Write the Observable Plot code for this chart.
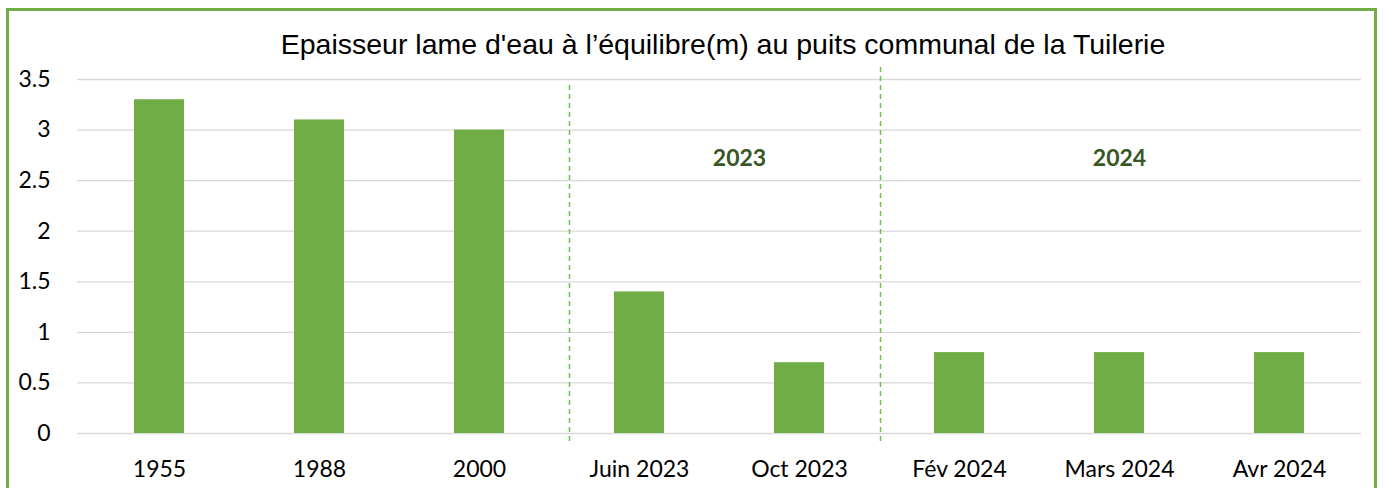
<!DOCTYPE html>
<html>
<head>
<meta charset="utf-8">
<script src="https://cdn.jsdelivr.net/npm/d3@7"></script>
<script src="https://cdn.jsdelivr.net/npm/@observablehq/plot@0.6"></script>
<style>
  html, body { margin: 0; padding: 0; background: #fff; }
  #wrap { position: relative; width: 1385px; height: 488px; overflow: hidden; }
  #frame { position: absolute; left: 6px; top: 8px; width: 1371px; height: 500px;
           border: 3px solid #70AD47; box-sizing: border-box; }
  #title { position: absolute; left: 0; width: 1446px; top: 28px; text-align: center;
           font-family: "Liberation Sans", Arial, sans-serif; font-size: 28.5px; color: #000; }
  #chart { position: absolute; left: 0; top: 0; }
</style>
</head>
<body>
<div id="wrap">
  <div id="frame"></div>
  <div id="chart"></div>
  <div id="title">Epaisseur lame d'eau à l’équilibre(m) au puits communal de la Tuilerie</div>
</div>
<script>
const categories = ["1955", "1988", "2000", "Juin 2023", "Oct 2023", "Fév 2024", "Mars 2024", "Avr 2024"];
const values = [3.3, 3.1, 3.0, 1.4, 0.7, 0.8, 0.8, 0.8];
const yTicks = [0, 0.5, 1, 1.5, 2, 2.5, 3, 3.5];
const groupLabels = ["2023", "2024"];
const groupAnchor = ["Oct 2023", "Mars 2024"];
const separatorAfter = ["2000", "Oct 2023"];

const data = categories.map((c, i) => ({cat: c, value: values[i]}));
const green = "#70AD47";
const font = "Lato, 'Open Sans', sans-serif";

const chart = Plot.plot({
  width: 1385,
  height: 488,
  marginLeft: 77,
  marginRight: 24,
  marginTop: 79,
  marginBottom: 55,
  style: {fontFamily: font, fontSize: "23px", color: "#000", background: "transparent"},
  x: {domain: categories, paddingInner: 0.69, paddingOuter: 0.345, label: null, tickSize: 0, tickPadding: 27},
  y: {domain: [0, 3.5], ticks: yTicks, label: null, tickSize: 0, tickPadding: 27, tickFormat: d => String(d)},
  marks: [
    Plot.ruleY(yTicks, {stroke: "#d9d9d9", strokeWidth: 1.3}),
    Plot.barY(data, {x: "cat", y: "value", fill: green}),
    Plot.ruleX([separatorAfter[0]], {y1: -0.08, y2: 3.47, dx: 90, stroke: "#6cc24a", strokeDasharray: "5,4", strokeWidth: 1.5}),
    Plot.ruleX([separatorAfter[1]], {y1: -0.08, y2: 3.63, dx: 81, stroke: "#6cc24a", strokeDasharray: "5,4", strokeWidth: 1.5}),
    Plot.text([groupLabels[0]], {x: () => groupAnchor[0], y: 2.72, text: d => d, dx: -60, fill: "#375623", fontWeight: "bold", fontSize: 23}),
    Plot.text([groupLabels[1]], {x: () => groupAnchor[1], y: 2.72, text: d => d, dx: 0, fill: "#375623", fontWeight: "bold", fontSize: 23})
  ]
});
document.getElementById("chart").appendChild(chart);
</script>
</body>
</html>
